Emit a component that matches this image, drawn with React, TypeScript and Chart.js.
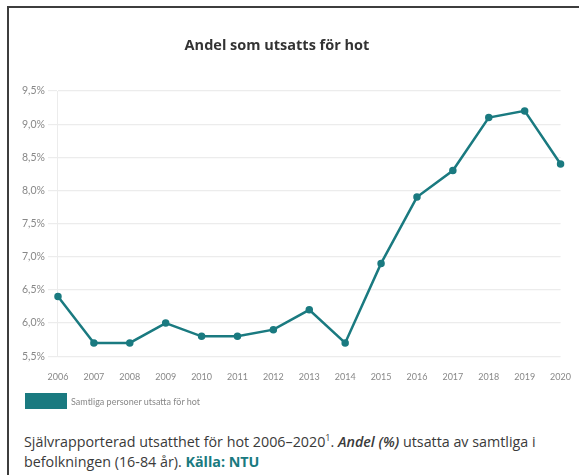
import React, { useEffect, useRef } from "react";
import { Chart, registerables } from "chart.js";

Chart.register(...registerables);

const years = ["2006", "2007", "2008", "2009", "2010", "2011", "2012", "2013", "2014", "2015", "2016", "2017", "2018", "2019", "2020"];
const threatened = [6.4, 5.7, 5.7, 6.0, 5.8, 5.8, 5.9, 6.2, 5.7, 6.9, 7.9, 8.3, 9.1, 9.2, 8.4];
const seriesLabel = "Samtliga personer utsatta för hot";
const chartTitle = "Andel som utsatts för hot";
const yMin = 5.5;
const yMax = 9.5;
const yStep = 0.5;

const TEAL = "#1a7a80";

export default function App() {
  const canvasRef = useRef<HTMLCanvasElement | null>(null);

  useEffect(() => {
    document.body.style.margin = "0";
    const ctx = canvasRef.current;
    if (!ctx) return;
    const chart = new Chart(ctx, {
      type: "line",
      data: {
        labels: years,
        datasets: [
          {
            label: seriesLabel,
            data: threatened,
            borderColor: TEAL,
            backgroundColor: TEAL,
            borderWidth: 2.5,
            pointRadius: 2.5,
            pointHoverRadius: 3,
            tension: 0,
          },
        ],
      },
      options: {
        animation: false,
        responsive: false,
        maintainAspectRatio: false,
        layout: { padding: { left: 10, right: 5, top: 83, bottom: 0 } },
        plugins: {
          title: { display: false },
          legend: { display: false },
          tooltip: { enabled: false },
        },
        scales: {
          x: {
            offset: false,
            grid: { display: false, drawTicks: false },
            border: { display: false },
            ticks: {
              color: "#888888",
              font: { family: "Lato, sans-serif", size: 9 },
              maxRotation: 0,
              autoSkip: false,
              padding: 15,
            },
          },
          y: {
            min: yMin,
            max: yMax,
            grid: { color: "#ececec", lineWidth: 1.2, tickLength: 10 },
            border: { display: true, color: "#ececec" },
            ticks: {
              stepSize: yStep,
              color: "#888888",
              font: { family: "Lato, sans-serif", size: 10.5 },
              padding: 3,
              callback: (v: any) => Number(v).toFixed(1).replace(".", ",") + "%",
            },
          },
        },
      },
    });
    return () => chart.destroy();
  }, []);

  return (
    <div
      style={{
        position: "fixed",
        left: 7,
        top: 6,
        width: 600,
        height: 500,
        borderTop: "2px solid #3d3d3d",
        borderLeft: "2px solid #3d3d3d",
        background: "#fff",
        fontFamily: "'Open Sans', sans-serif",
      }}
    >
      <div
        style={{
          position: "absolute",
          left: 0,
          top: 27,
          width: 536,
          textAlign: "center",
          fontSize: 14.5,
          fontWeight: "bold",
          color: "#333",
          lineHeight: "20px",
        }}
      >
        {chartTitle}
      </div>
      <canvas ref={canvasRef} width={577} height={389} style={{ display: "block", width: 577, height: 389 }} />
      <div
        style={{
          position: "absolute",
          left: 16,
          top: 385,
          display: "flex",
          alignItems: "center",
          fontFamily: "Lato, sans-serif",
          fontSize: 9,
          color: "#888888",
        }}
      >
        <span style={{ display: "inline-block", width: 42, height: 16, background: TEAL, marginRight: 4 }} />
        <span>{seriesLabel}</span>
      </div>
      <div
        style={{
          position: "absolute",
          left: 15,
          top: 424,
          width: 530,
          fontSize: 14.3,
          lineHeight: "20px",
          color: "#3a3a3a",
        }}
      >
        Självrapporterad utsatthet för hot 2006–2020<sup style={{ fontSize: 9, lineHeight: 0 }}>1</sup>.{" "}
        <i style={{ fontWeight: 600 }}>Andel (%)</i> utsatta av samtliga i befolkningen (16-84 år).{" "}
        <span style={{ color: TEAL, fontWeight: "bold" }}>Källa: NTU</span>
      </div>
    </div>
  );
}
